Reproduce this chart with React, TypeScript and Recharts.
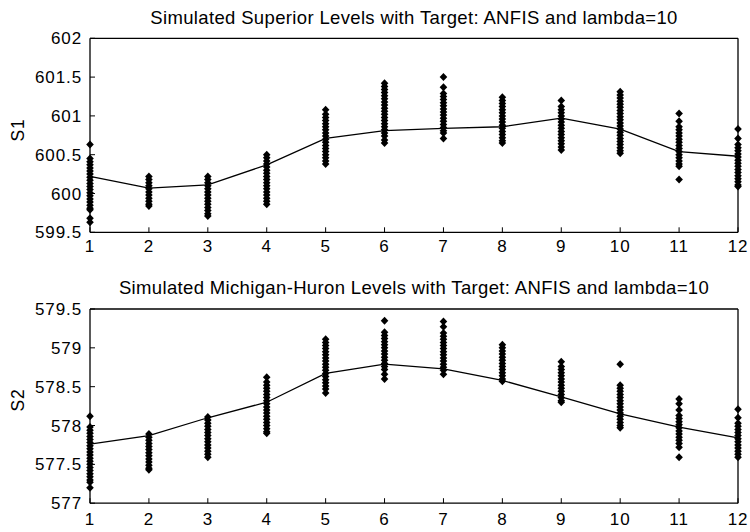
import React from 'react';
import { ComposedChart, Line, Scatter, XAxis, YAxis } from 'recharts';

// ---------- data ----------
const months = [1, 2, 3, 4, 5, 6, 7, 8, 9, 10, 11, 12];
const monthTicks = [1, 2, 3, 4, 5, 6, 7, 8, 9, 10, 11, 12];

const s1Ticks = [599.5, 600, 600.5, 601, 601.5, 602];
const s2Ticks = [577, 577.5, 578, 578.5, 579, 579.5];

const s1Title = 'Simulated Superior Levels with Target: ANFIS and lambda=10';
const s2Title = 'Simulated Michigan-Huron Levels with Target: ANFIS and lambda=10';

// target (line) values
const s1Target = [600.22, 600.07, 600.11, 600.37, 600.71, 600.81, 600.84, 600.86, 600.97, 600.83, 600.54, 600.48];
const s2Target = [577.76, 577.87, 578.1, 578.3, 578.67, 578.79, 578.73, 578.58, 578.37, 578.15, 577.98, 577.84];

// simulated levels (diamonds), one list per month
const s1Sims = [
  [600.63, 600.45, 600.41, 600.37, 600.33, 600.29, 600.25, 600.21, 600.17, 600.13, 600.09, 600.05, 600.01, 599.97, 599.93, 599.89, 599.85, 599.81, 599.79, 599.68, 599.63],
  [600.22, 600.18, 600.14, 600.1, 600.06, 600.02, 599.98, 599.94, 599.9, 599.86, 599.84],
  [600.22, 600.18, 600.14, 600.1, 600.06, 600.02, 599.98, 599.94, 599.9, 599.86, 599.82, 599.78, 599.74, 599.71],
  [600.5, 600.46, 600.42, 600.38, 600.34, 600.3, 600.26, 600.22, 600.18, 600.14, 600.1, 600.06, 600.02, 599.98, 599.94, 599.9, 599.86],
  [601.08, 601.02, 600.98, 600.94, 600.9, 600.86, 600.82, 600.78, 600.74, 600.7, 600.66, 600.62, 600.58, 600.54, 600.5, 600.46, 600.42, 600.38],
  [601.42, 601.38, 601.34, 601.3, 601.26, 601.22, 601.18, 601.14, 601.1, 601.06, 601.02, 600.98, 600.94, 600.9, 600.86, 600.82, 600.78, 600.74, 600.69, 600.65],
  [601.5, 601.37, 601.29, 601.25, 601.21, 601.17, 601.13, 601.09, 601.05, 601.01, 600.97, 600.93, 600.89, 600.85, 600.81, 600.78, 600.71],
  [601.24, 601.2, 601.16, 601.12, 601.08, 601.04, 601.0, 600.96, 600.92, 600.88, 600.84, 600.8, 600.76, 600.72, 600.68, 600.65],
  [601.2, 601.12, 601.08, 601.04, 601.0, 600.96, 600.92, 600.88, 600.84, 600.8, 600.76, 600.72, 600.68, 600.64, 600.6, 600.56],
  [601.31, 601.27, 601.23, 601.19, 601.15, 601.11, 601.07, 601.03, 600.99, 600.95, 600.91, 600.87, 600.83, 600.79, 600.75, 600.71, 600.67, 600.63, 600.59, 600.55, 600.52],
  [601.03, 600.93, 600.86, 600.82, 600.78, 600.74, 600.7, 600.66, 600.62, 600.58, 600.54, 600.5, 600.46, 600.42, 600.38, 600.35, 600.18],
  [600.83, 600.71, 600.63, 600.59, 600.55, 600.51, 600.47, 600.43, 600.39, 600.35, 600.31, 600.27, 600.23, 600.19, 600.15, 600.11, 600.09],
];

const s2Sims = [
  [578.12, 577.98, 577.94, 577.9, 577.86, 577.82, 577.78, 577.74, 577.7, 577.66, 577.62, 577.58, 577.54, 577.5, 577.46, 577.42, 577.38, 577.34, 577.3, 577.27, 577.2],
  [577.89, 577.85, 577.81, 577.77, 577.73, 577.69, 577.65, 577.61, 577.57, 577.53, 577.49, 577.45, 577.43],
  [578.11, 578.07, 578.03, 577.99, 577.95, 577.91, 577.87, 577.83, 577.79, 577.75, 577.71, 577.67, 577.63, 577.59],
  [578.62, 578.56, 578.52, 578.48, 578.44, 578.4, 578.36, 578.32, 578.28, 578.24, 578.2, 578.16, 578.12, 578.08, 578.04, 578.0, 577.96, 577.92, 577.9],
  [579.11, 579.07, 579.03, 578.99, 578.95, 578.91, 578.87, 578.83, 578.79, 578.75, 578.71, 578.67, 578.63, 578.59, 578.55, 578.51, 578.47, 578.42],
  [579.35, 579.2, 579.16, 579.12, 579.08, 579.04, 579.0, 578.96, 578.92, 578.88, 578.84, 578.8, 578.76, 578.72, 578.66, 578.6],
  [579.34, 579.27, 579.19, 579.15, 579.11, 579.07, 579.03, 578.99, 578.95, 578.91, 578.87, 578.83, 578.79, 578.75, 578.71, 578.66],
  [579.04, 579.0, 578.96, 578.92, 578.88, 578.84, 578.8, 578.76, 578.72, 578.68, 578.64, 578.6, 578.57],
  [578.82, 578.76, 578.72, 578.68, 578.64, 578.6, 578.56, 578.52, 578.48, 578.44, 578.4, 578.36, 578.32, 578.3],
  [578.79, 578.52, 578.48, 578.44, 578.4, 578.36, 578.32, 578.28, 578.24, 578.2, 578.16, 578.12, 578.08, 578.04, 578.0, 577.97],
  [578.34, 578.28, 578.2, 578.13, 578.09, 578.05, 578.01, 577.97, 577.93, 577.89, 577.85, 577.81, 577.77, 577.72, 577.59],
  [578.21, 578.1, 578.03, 577.99, 577.95, 577.91, 577.87, 577.83, 577.79, 577.75, 577.71, 577.67, 577.63, 577.59],
];

// ---------- helpers ----------
const FONT = '"Liberation Sans", Arial, Helvetica, sans-serif';
const TICK_LEN = 5;

const Diamond = (props: any) => {
  const { cx, cy } = props;
  if (cx == null || cy == null) return <g />;
  return (
    <path
      d={`M${cx},${cy - 4}L${cx + 3.8},${cy}L${cx},${cy + 4}L${cx - 3.8},${cy}Z`}
      fill="#000"
      stroke="none"
    />
  );
};

const labelStyle = { fontFamily: FONT, fontSize: 17, letterSpacing: 0.9, fill: '#000' };

// bottom axis: label + inward tick (axis sits `margin` px above label top)
const makeBottomTick = (margin: number) => (props: any) => {
  const { x, y, payload } = props;
  const axisY = y - margin;
  return (
    <g>
      <line x1={x} x2={x} y1={axisY} y2={axisY - TICK_LEN} stroke="#000" strokeWidth={1} />
      <text x={x} y={y} dy="0.71em" textAnchor="middle" style={labelStyle}>
        {payload.value}
      </text>
    </g>
  );
};

const makeLeftTick = (margin: number) => (props: any) => {
  const { x, y, payload } = props;
  const axisX = x + margin;
  return (
    <g>
      <line x1={axisX} x2={axisX + TICK_LEN} y1={y} y2={y} stroke="#000" strokeWidth={1} />
      <text x={x} y={y} dy="0.36em" textAnchor="end" style={labelStyle}>
        {payload.value}
      </text>
    </g>
  );
};

const TopTick = (props: any) => {
  const { x, y } = props;
  return <line x1={x} x2={x} y1={y} y2={y + TICK_LEN} stroke="#000" strokeWidth={1} />;
};

const RightTick = (props: any) => {
  const { x, y } = props;
  return <line x1={x} x2={x - TICK_LEN} y1={y} y2={y} stroke="#000" strokeWidth={1} />;
};

type PanelProps = {
  top: number;
  title: string;
  titleY: number;
  yLabel: string;
  yLabelY: number;
  target: number[];
  sims: number[][];
  yTicks: number[];
  marginTop: number;
  marginBottom: number;
  xAxisHeight: number;
  xTickMargin: number;
};

const Panel = (p: PanelProps) => {
  const lineData = months.map((m, i) => ({ month: m, level: p.target[i] }));
  const pointData = months.flatMap((m, i) => p.sims[i].map((v) => ({ month: m, level: v })));
  const domain: [number, number] = [p.yTicks[0], p.yTicks[p.yTicks.length - 1]];
  const BottomTick = makeBottomTick(p.xTickMargin);
  const LeftTick = makeLeftTick(8);
  return (
    <>
      <div
        style={{
          position: 'absolute',
          left: 114,
          width: 600,
          top: p.top + p.titleY - 11,
          height: 22,
          lineHeight: '22px',
          textAlign: 'center',
          fontFamily: FONT,
          fontSize: 18.5,
          letterSpacing: 0.35,
          color: '#000',
          whiteSpace: 'nowrap',
        }}
      >
        {p.title}
      </div>
      <div
        style={{
          position: 'absolute',
          left: 17.5 - 20,
          top: p.top + p.yLabelY - 11,
          width: 40,
          height: 22,
          lineHeight: '22px',
          textAlign: 'center',
          fontFamily: FONT,
          fontSize: 17.5,
          letterSpacing: 0.8,
          color: '#000',
          transform: 'rotate(-90deg)',
        }}
      >
        {p.yLabel}
      </div>
      <div style={{ position: 'absolute', left: 0, top: p.top }}>
        <ComposedChart
          width={750}
          height={266}
          margin={{ top: p.marginTop, right: 11, bottom: p.marginBottom, left: 0 }}
        >
          <XAxis
            dataKey="month"
            type="number"
            domain={[1, 12]}
            ticks={monthTicks}
            height={p.xAxisHeight}
            tickSize={0}
            tickMargin={p.xTickMargin}
            tickLine={false}
            stroke="#000"
            strokeWidth={1.3}
            tick={BottomTick}
          />
          <XAxis
            xAxisId="top"
            orientation="top"
            type="number"
            domain={[1, 12]}
            ticks={monthTicks}
            height={1}
            tickSize={0}
            tickMargin={0}
            tickLine={false}
            stroke="#000"
            strokeWidth={1.3}
            tick={TopTick}
          />
          <YAxis
            dataKey="level"
            type="number"
            domain={domain}
            ticks={p.yTicks}
            width={90}
            tickSize={0}
            tickMargin={8}
            tickLine={false}
            stroke="#000"
            strokeWidth={1.3}
            tick={LeftTick}
          />
          <YAxis
            yAxisId="right"
            orientation="right"
            type="number"
            domain={domain}
            ticks={p.yTicks}
            width={1}
            tickSize={0}
            tickMargin={0}
            tickLine={false}
            stroke="#000"
            strokeWidth={1.3}
            tick={RightTick}
          />
          <Scatter data={pointData} dataKey="level" shape={Diamond} isAnimationActive={false} />
          <Line
            data={lineData}
            dataKey="level"
            type="linear"
            stroke="#000"
            strokeWidth={1.3}
            dot={false}
            activeDot={false}
            isAnimationActive={false}
          />
        </ComposedChart>
      </div>
    </>
  );
};

export default function App() {
  return (
    <div
      style={{
        position: 'absolute',
        left: 0,
        top: 0,
        width: 750,
        height: 532,
        background: '#fff',
        overflow: 'hidden',
      }}
    >
      <Panel
        top={0}
        title={s1Title}
        titleY={18.3}
        yLabel="S1"
        yLabelY={130}
        target={s1Target}
        sims={s1Sims}
        yTicks={s1Ticks}
        marginTop={37.3}
        marginBottom={3.7}
        xAxisHeight={30}
        xTickMargin={8}
      />
      <Panel
        top={266}
        title={s2Title}
        titleY={22.3}
        yLabel="S2"
        yLabelY={134}
        target={s2Target}
        sims={s2Sims}
        yTicks={s2Ticks}
        marginTop={42}
        marginBottom={0}
        xAxisHeight={28.8}
        xTickMargin={10}
      />
    </div>
  );
}
